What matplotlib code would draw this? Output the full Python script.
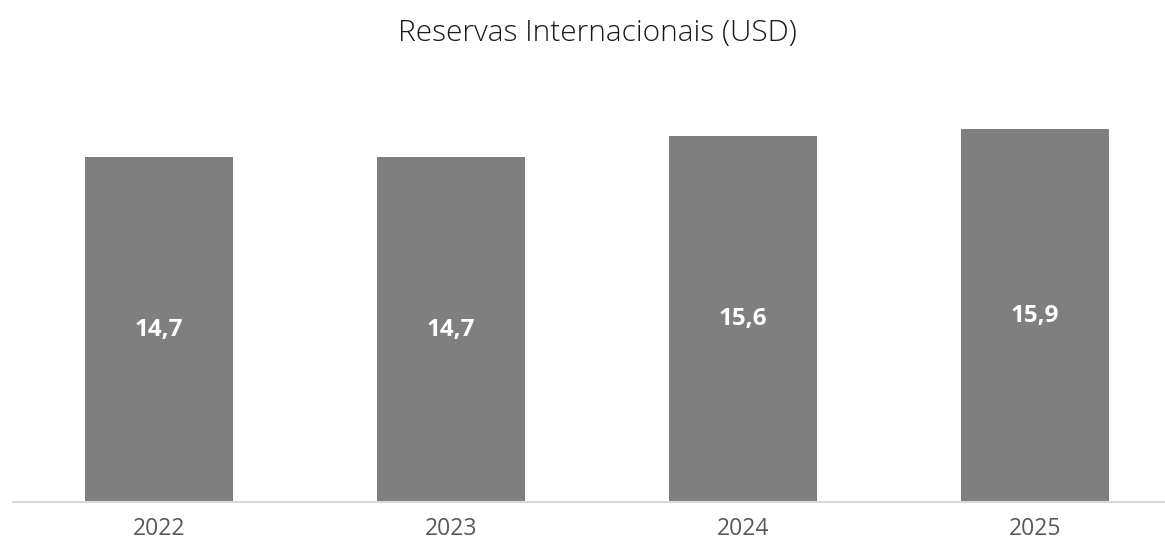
import matplotlib.pyplot as plt

years = ["2022", "2023", "2024", "2025"]
reservas = [14.7, 14.7, 15.6, 15.9]
labels = ["14,7", "14,7", "15,6", "15,9"]

plt.rcParams['font.family'] = ['Open Sans', 'DejaVu Sans']

fig = plt.figure(figsize=(11.65, 5.43), dpi=100)
ax = fig.add_axes([13 / 1165, 41 / 543, 1 - 13 / 1165, 422 / 543])

x = range(len(years))
bars = ax.bar(x, reservas, width=0.507, color="#7f7f7f")

for b, lab in zip(bars, labels):
    ax.text(b.get_x() + b.get_width() / 2, b.get_height() / 2, lab,
            ha="center", va="center", color="white", fontsize=17.5, fontweight="bold")

ax.set_xlim(-0.5, 3.445)
ax.set_ylim(0, 18)
ax.set_xticks(list(x))
ax.set_xticklabels(years, fontsize=16.5, color="#595959")
ax.tick_params(axis="x", length=0, pad=11)
ax.set_yticks([])
for s in ["top", "right", "left"]:
    ax.spines[s].set_visible(False)
ax.spines["bottom"].set_color("#d9d9d9")
ax.spines["bottom"].set_linewidth(1.5)

fig.text(597 / 1165, 1 - 33 / 543, "Reservas Internacionais (USD)",
         ha="center", va="center", fontsize=21.5, color="#1a1a1a", fontweight="light")

fig.savefig("out.png", dpi=100)
